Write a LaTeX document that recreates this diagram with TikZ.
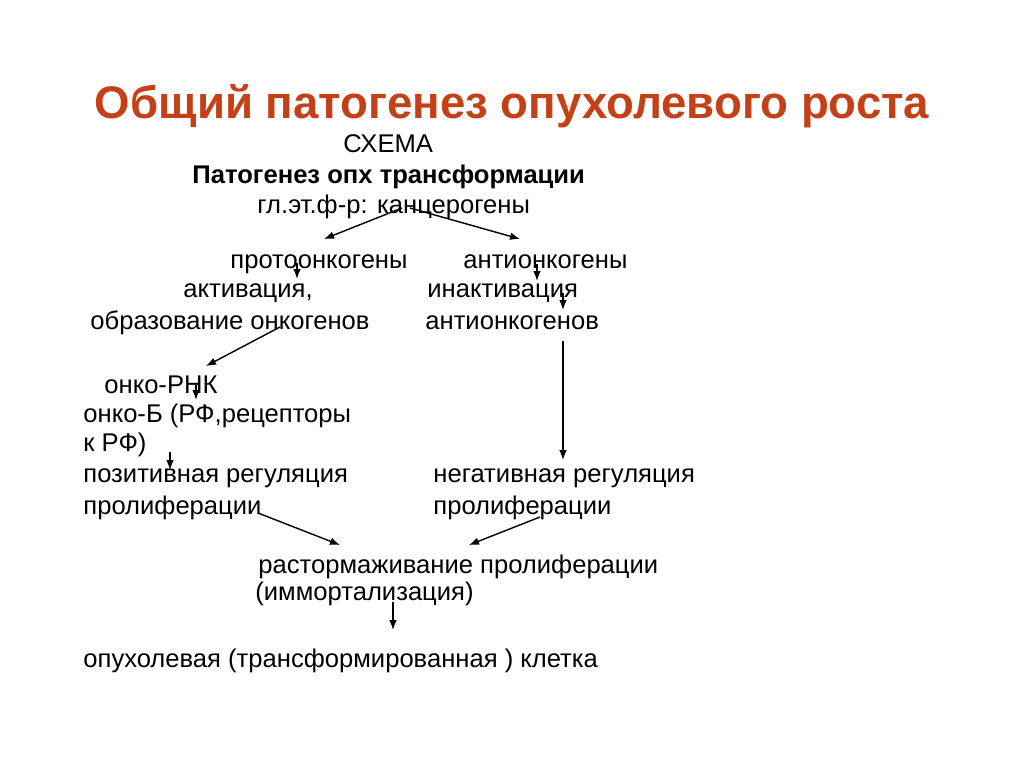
\documentclass[tikz,border=0pt]{standalone}
\usepackage{fontspec}
\setmainfont{Liberation Sans}
\usetikzlibrary{arrows.meta}
\definecolor{titlered}{RGB}{196,64,22}
\newcommand{\tnode}[3]{\node [txt] (#1) at (#2) {#3}}

\begin{document}
\begin{tikzpicture}[x=0.5pt,y=-0.5pt,
  txt/.style={anchor=base west, inner sep=0pt, font=\fontsize{12.8}{15}\selectfont},
  arr/.style={-{Latex[length=5pt,width=3.8pt]}, line width=0.7pt}]

\useasboundingbox (0,0) rectangle (1024,768);

\node [anchor=base, inner sep=0pt, text=titlered, font=\fontsize{22.8}{27}\selectfont\bfseries] (TITLE) at (512,118) {Общий патогенез опухолевого роста};

\tnode{SCH}{343,152}{СХЕМА};
\tnode{PAT}{192,183}{\bfseries Патогенез опх трансформации};
\tnode{KANC}{257,213}{гл.эт.ф-р: канцерогены};

\tnode{PROTO}{230,268}{протоонкогены};
\tnode{ANTI}{463,268}{антионкогены};
\tnode{ACT}{183,297}{активация,};
\tnode{INACT}{427,297}{инактивация};
\tnode{OBR}{90,329}{образование онкогенов};
\tnode{ANTIG}{425,329}{антионкогенов};

\tnode{RNK}{104,393}{онко-РНК};
\tnode{ONKB}{83,422}{онко-Б (РФ,рецепторы};
\tnode{KRF}{83,451}{к РФ)};
\tnode{POS}{83,482}{позитивная регуляция};
\tnode{PROL}{83,514}{пролиферации};
\tnode{NEG}{433,482}{негативная регуляция};
\tnode{PROLN}{433,514}{пролиферации};

\tnode{RAST}{258,573}{растормаживание пролиферации};
\tnode{IMM}{255,600}{(иммортализация)};
\tnode{CELL}{83,667}{опухолевая (трансформированная ) клетка};

% arrow ends
\coordinate (K1) at (402,208);
\coordinate (K2) at (410,208);
\coordinate (PR1) at (324,239);
\coordinate (AN1) at (520,239);
\coordinate (PR2) at (297,263);
\coordinate (AC1) at (297,279);
\coordinate (AN2) at (537,264);
\coordinate (IN1) at (537,281);
\coordinate (IN2) at (563,293);
\coordinate (AG1) at (563,310);
\coordinate (OB1) at (280,327);
\coordinate (RN1) at (206,366);
\coordinate (RN2) at (196,385);
\coordinate (OK1) at (196,400);
\coordinate (KR1) at (170,452);
\coordinate (PO1) at (170,470);
\coordinate (AG2) at (563,341);
\coordinate (NE1) at (563,460);
\coordinate (PL1) at (258,513);
\coordinate (RA1) at (340,545);
\coordinate (PL2) at (540,517);
\coordinate (RA2) at (469,545);
\coordinate (IM1) at (393,602);
\coordinate (CE1) at (393,630);

\draw[arr] (K1) -- (PR1);
\draw[arr] (K2) -- (AN1);
\draw[arr] (PR2) -- (AC1);
\draw[arr] (AN2) -- (IN1);
\draw[arr] (IN2) -- (AG1);
\draw[arr] (OB1) -- (RN1);
\draw[arr] (RN2) -- (OK1);
\draw[arr] (KR1) -- (PO1);
\draw[arr] (AG2) -- (NE1);
\draw[arr] (PL1) -- (RA1);
\draw[arr] (PL2) -- (RA2);
\draw[arr] (IM1) -- (CE1);

\end{tikzpicture}
\end{document}
